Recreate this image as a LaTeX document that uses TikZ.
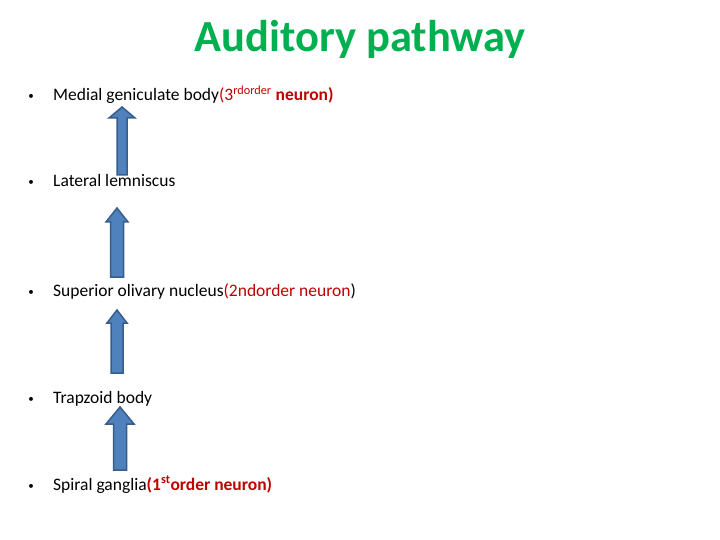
\documentclass[tikz,border=0pt]{standalone}
\usepackage{fontspec}
\setmainfont{Carlito}
\definecolor{titlegreen}{HTML}{00B050}
\definecolor{darkred}{HTML}{C00000}
\definecolor{arrowfill}{HTML}{4F81BD}
\definecolor{arrowline}{HTML}{385D8A}
\tikzset{
  item/.style={anchor=base west, inner sep=0pt, font=\fontsize{17.5}{21}\selectfont},
  bulletnode/.style={anchor=base, inner sep=0pt, font=\fontsize{11}{13}\selectfont},
  blockarrow/.style={fill=arrowfill, draw=arrowline, line width=1.5pt, line join=miter}
}
\newcommand{\uparrowblock}[6]{% x, ybottom, ytip, shaft width, head width, head height
  \pgfmathsetmacro{\sa}{#1-#4/2}\pgfmathsetmacro{\sb}{#1+#4/2}%
  \pgfmathsetmacro{\ha}{#1-#5/2}\pgfmathsetmacro{\hb}{#1+#5/2}%
  \pgfmathsetmacro{\hy}{#3+#6}%
  \draw[blockarrow] (\sa,#2) -- (\sa,\hy) -- (\ha,\hy) -- (#1,#3) -- (\hb,\hy) -- (\sb,\hy) -- (\sb,#2) -- cycle;
}
\begin{document}
\begin{tikzpicture}[x=1pt,y=-1pt]
\useasboundingbox (0,0) rectangle (720,540);
\node[anchor=base, inner sep=0pt, font=\fontsize{44.5}{50}\selectfont\bfseries, text=titlegreen] (title) at (360,52) {Auditory pathway};

\node[bulletnode] (b1) at (31,100) {•};
\node[item] (t1) at (53,101) {Medial geniculate body\textcolor{darkred}{(3\textsuperscript{rdorder} \textbf{neuron)}}};
\node[bulletnode] (b2) at (31,186) {•};
\node[item] (t2) at (53,187) {Lateral lemniscus};
\node[bulletnode] (b3) at (31,295) {•};
\node[item] (t3) at (53,296) {Superior olivary nucleus\textcolor{darkred}{(2ndorder neuron})};
\node[bulletnode] (b4) at (31,402) {•};
\node[item] (t4) at (53,403) {Trapzoid body};
\node[bulletnode] (b5) at (31,489) {•};
\node[item] (t5) at (53,490) {Spiral ganglia\textcolor{darkred}{\textbf{(1\textsuperscript{st}order neuron)}}};

\uparrowblock{122}{175}{107}{10}{26}{11}
\uparrowblock{117}{277}{208}{13}{22}{14}
\uparrowblock{117}{373}{310}{12}{20}{13}
\uparrowblock{120}{470}{407}{13}{28}{17}
\end{tikzpicture}
\end{document}
